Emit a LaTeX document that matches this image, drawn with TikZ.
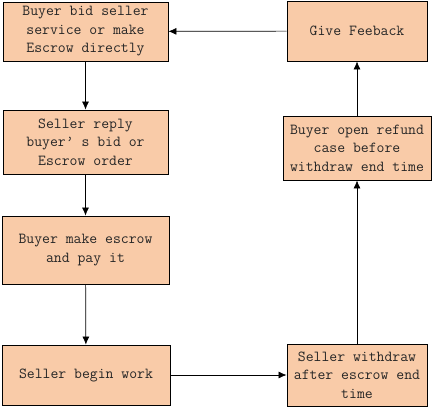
\documentclass[tikz,border=0pt]{standalone}
\usepackage{xcolor}
\usetikzlibrary{positioning,arrows.meta}
\definecolor{peach}{HTML}{F9CBA8}
\begin{document}
\begin{tikzpicture}[x=1pt,y=-1pt,every node/.style={align=center},
  flowbox/.style={draw=black,fill=peach,line width=0.8pt,inner sep=0pt,
    font=\ttfamily\fontsize{15.3}{18.5}\selectfont,text=black!85},
  flowarrow/.style={-{Latex[length=8pt,width=7pt]},line width=0.7pt}]
  \useasboundingbox (0,0) rectangle (434,407);
  % left column
  \node[flowbox,minimum width=165pt,minimum height=59pt] (bid) at (85.5,31.5)
    {Buyer bid seller\\service or make\\Escrow directly};
  \node[flowbox,minimum width=165pt,minimum height=64pt] (reply) at (85.5,142)
    {Seller reply\\buyer’ s bid or\\Escrow order};
  \node[flowbox,minimum width=167pt,minimum height=68pt] (pay) at (85.5,250)
    {Buyer make escrow\\and pay it};
  \node[flowbox,minimum width=168pt,minimum height=60pt] (work) at (86,375)
    {Seller begin work};
  % right column
  \node[flowbox,minimum width=140pt,minimum height=62pt] (withdraw) at (357,375)
    {Seller withdraw\\after escrow end\\time};
  \node[flowbox,minimum width=148pt,minimum height=64pt] (refund) at (357,148)
    {Buyer open refund\\case before\\withdraw end time};
  \node[flowbox,minimum width=140pt,minimum height=60pt] (feedback) at (357,31)
    {Give Feeback};
  % connectors
  \draw[flowarrow] (bid) -- (reply);
  \draw[flowarrow] (reply) -- (pay);
  \draw[flowarrow] (pay) -- (work);
  \draw[flowarrow] (work) -- (withdraw);
  \draw[flowarrow] (withdraw) -- (refund);
  \draw[flowarrow] (refund) -- (feedback);
  \draw[flowarrow] (feedback) -- (bid);
\end{tikzpicture}
\end{document}
